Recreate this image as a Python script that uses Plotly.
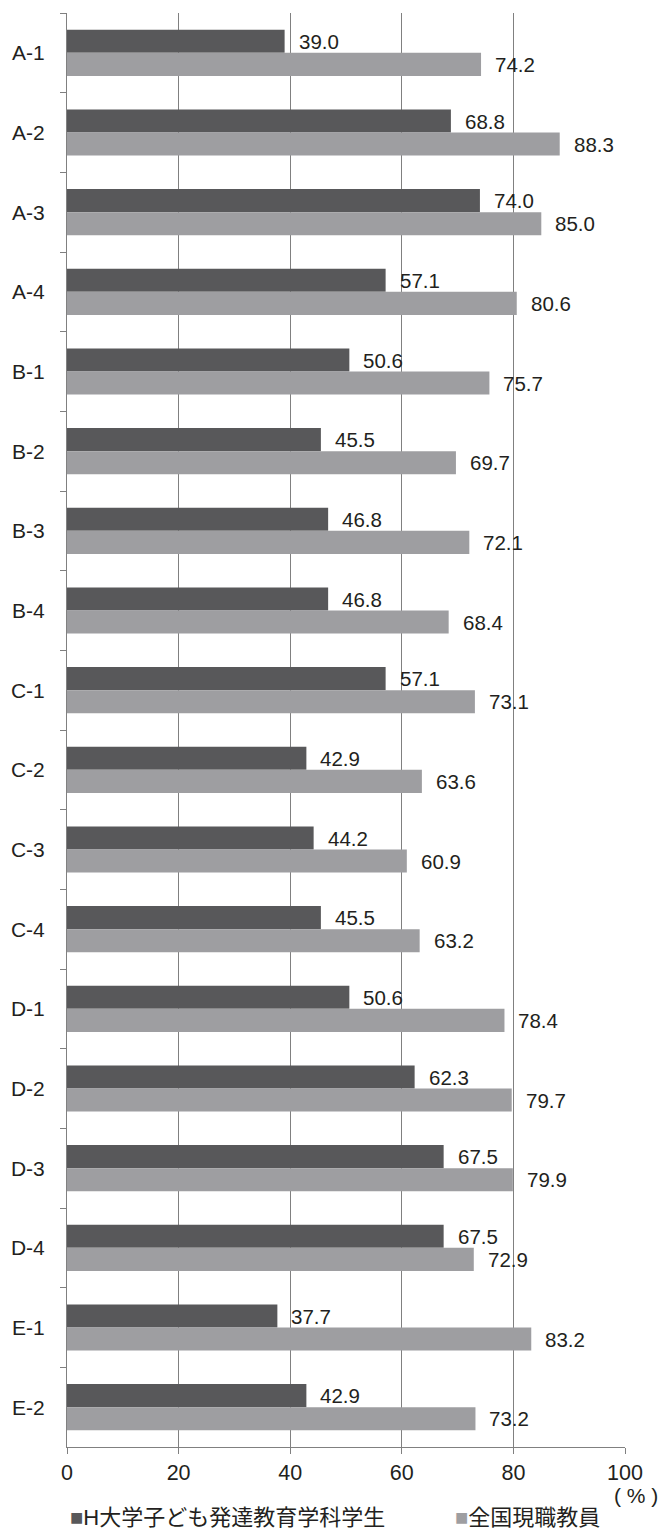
import plotly.graph_objects as go

categories = ["A-1", "A-2", "A-3", "A-4", "B-1", "B-2", "B-3", "B-4",
              "C-1", "C-2", "C-3", "C-4", "D-1", "D-2", "D-3", "D-4",
              "E-1", "E-2"]
students = [39.0, 68.8, 74.0, 57.1, 50.6, 45.5, 46.8, 46.8,
            57.1, 42.9, 44.2, 45.5, 50.6, 62.3, 67.5, 67.5,
            37.7, 42.9]
teachers = [74.2, 88.3, 85.0, 80.6, 75.7, 69.7, 72.1, 68.4,
            73.1, 63.6, 60.9, 63.2, 78.4, 79.7, 79.9, 72.9,
            83.2, 73.2]
series_names = ["H大学子ども発達教育学科学生", "全国現職教員"]
x_ticks = [0, 20, 40, 60, 80, 100]

DARK = "#58585a"
LIGHT = "#9e9ea1"
GRID = "#808080"
TEXT = "#231f20"
FONT = "Liberation Sans, Arial, Noto Sans CJK JP, sans-serif"

fig = go.Figure()
fig.add_trace(go.Bar(y=categories, x=students, orientation="h", name=series_names[0],
                     marker=dict(color=DARK, line=dict(width=0)), showlegend=False))
fig.add_trace(go.Bar(y=categories, x=teachers, orientation="h", name=series_names[1],
                     marker=dict(color=LIGHT, line=dict(width=0)), showlegend=False))

annotations = []
for c, v in zip(categories, students):
    annotations.append(dict(x=v, y=c, xref="x", yref="y", text=f"{v:.1f}",
                            showarrow=False, xanchor="left", yanchor="middle",
                            xshift=12, yshift=11.5,
                            font=dict(size=20.5, color=TEXT, family=FONT)))
for c, v in zip(categories, teachers):
    annotations.append(dict(x=v, y=c, xref="x", yref="y", text=f"{v:.1f}",
                            showarrow=False, xanchor="left", yanchor="middle",
                            xshift=12, yshift=-11.5,
                            font=dict(size=20.5, color=TEXT, family=FONT)))

# unit label
annotations.append(dict(x=1.0197, y=-0.0338, xref="paper", yref="paper", text="( % )",
                        showarrow=False, xanchor="center", yanchor="middle",
                        font=dict(size=21, color=TEXT, family=FONT)))
# legend (manual)
annotations.append(dict(x=0.0, y=-0.0495, xref="paper", yref="paper",
                        text=f"<span style='color:{DARK}'>■</span>{series_names[0]}",
                        showarrow=False, xanchor="left", yanchor="middle", xshift=1,
                        font=dict(size=22, color=TEXT, family=FONT)))
annotations.append(dict(x=0.692, y=-0.0495, xref="paper", yref="paper",
                        text=f"<span style='color:{LIGHT}'>■</span>{series_names[1]}",
                        showarrow=False, xanchor="left", yanchor="middle",
                        font=dict(size=22, color=TEXT, family=FONT)))

fig.update_layout(
    width=661, height=1532,
    margin=dict(l=67, r=36, t=13, b=85),
    paper_bgcolor="white", plot_bgcolor="white",
    barmode="group", bargap=0.42, bargroupgap=0,
    font=dict(family=FONT, color=TEXT),
    annotations=annotations,
    showlegend=False,
)
fig.update_xaxes(range=[0, 100], tickvals=x_ticks, ticktext=[str(t) for t in x_ticks],
                 showgrid=True, gridcolor=GRID, gridwidth=1,
                 showline=True, linecolor=GRID, linewidth=1,
                 ticks="outside", ticklen=6, tickcolor=GRID,
                 zeroline=False, tickfont=dict(size=21.5, color=TEXT, family=FONT))
fig.update_yaxes(type="category", categoryorder="array", categoryarray=categories,
                 autorange="reversed", showgrid=False,
                 showline=True, linecolor=GRID, linewidth=1,
                 ticks="outside", tickson="boundaries", ticklen=6, tickcolor=GRID,
                 ticklabelstandoff=17,
                 tickfont=dict(size=21, color=TEXT, family=FONT))

fig.write_html("out.html")
